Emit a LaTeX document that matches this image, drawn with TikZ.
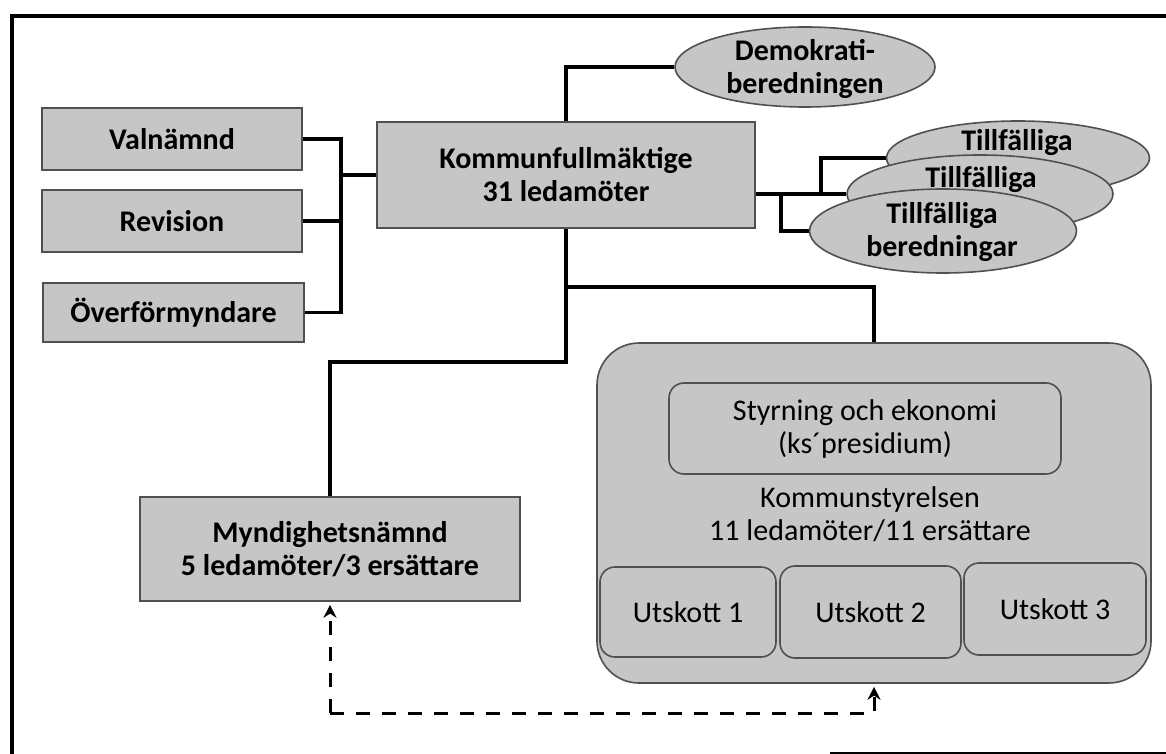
\documentclass[tikz,border=0pt]{standalone}
\usepackage{fontspec}
\setmainfont{Carlito}
\usetikzlibrary{shapes.geometric,arrows.meta,backgrounds}
\definecolor{boxgray}{RGB}{198,198,198}
\definecolor{edgegray}{RGB}{80,80,80}
\begin{document}
\begin{tikzpicture}[x=1pt,y=-1pt,
  txtfont/.style={font=\fontsize{30}{33}\selectfont},
  sqbox/.style={draw=edgegray, line width=1.6pt, fill=boxgray, inner sep=0pt, align=center, font=\bfseries\fontsize{30}{33}\selectfont},
  rbox/.style={draw=edgegray, line width=1.6pt, fill=boxgray, inner sep=0pt, align=center, rounded corners=15pt, txtfont},
  ksbox/.style={draw=edgegray, line width=1.6pt, fill=boxgray, inner sep=0pt, rounded corners=42pt},
  oval/.style={ellipse, draw=edgegray, line width=1.6pt, fill=boxgray, inner sep=0pt},
  lbl/.style={align=center, inner sep=0pt, font=\bfseries\fontsize{30}{33}\selectfont},
  lblreg/.style={align=center, inner sep=0pt, txtfont},
  conn/.style={line width=3.2pt, black},
  frameline/.style={line width=3.5pt, black},
  dashconn/.style={line width=3pt, black, dash pattern=on 14pt off 12pt, -{Stealth[length=13pt,width=13pt]}, shorten >=3pt}
]
\useasboundingbox (0,0) rectangle (1166,754);

% left boxes
\node[sqbox, minimum width=260pt, minimum height=62pt] (val) at (172,139) {Valnämnd};
\node[sqbox, minimum width=260pt, minimum height=62pt] (rev) at (172,221) {Revision};
\node[sqbox, minimum width=261pt, minimum height=59pt] (ovf) at (173.5,312.5) {Överförmyndare};

% Kommunfullmäktige
\node[sqbox, minimum width=378pt, minimum height=106pt] (kf) at (566,175) {Kommunfullmäktige\\31 ledamöter};

% ellipses
\node[oval, minimum width=260pt, minimum height=80pt] (demo) at (805,67) {};
\node[lbl] (demotxt) at (805,69) {Demokrati-\\beredningen};
\node[oval, minimum width=263pt, minimum height=74pt] (t1) at (1018,158) {};
\node[lbl] (t1txt) at (1017,143) {Tillfälliga};
\node[oval, minimum width=266pt, minimum height=78pt] (t2) at (980,194) {};
\node[lbl] (t2txt) at (981,180) {Tillfälliga};
\node[oval, minimum width=267pt, minimum height=84pt] (t3) at (943,231) {};
\node[lbl] (t3txt) at (942,232) {Tillfälliga\\beredningar};

% Myndighetsnämnd
\node[sqbox, minimum width=380pt, minimum height=104pt] (mynd) at (330,549) {Myndighetsnämnd\\5 ledamöter/3 ersättare};

% Kommunstyrelsen
\node[ksbox, minimum width=554pt, minimum height=340pt] (ks) at (874,513) {};
\node[rbox, minimum width=392pt, minimum height=91pt] (sty) at (865,428.5) {Styrning och ekonomi\\(ks´presidium)};
\node[lblreg] (kstxt) at (870,514) {Kommunstyrelsen\\11 ledamöter/11 ersättare};
\node[rbox, minimum width=176pt, minimum height=90pt] (u1) at (688,612) {Utskott 1};
\node[rbox, minimum width=181pt, minimum height=92pt] (u2) at (870.5,612) {Utskott 2};
\node[rbox, minimum width=182pt, minimum height=92pt] (u3) at (1055,609) {Utskott 3};

\begin{scope}[on background layer]
  % frame
  \draw[frameline] (1166,16) -- (12,16) -- (12,754);
  \draw[line width=2.5pt] (830,753) -- (1166,753);
  % bracket on the left
  \coordinate (bx) at (341,175);
  \draw[conn] (val.east) -| (bx) |- (ovf.east);
  \draw[conn] (rev.east) -- (rev.east -| bx);
  \draw[conn] (bx) -- (kf.west);
  % up to Demokratiberedningen
  \draw[conn] (kf.north) |- (demo.west);
  % to the Tillfälliga beredningar
  \coordinate (j1) at (821,194);
  \coordinate (j2) at (781,194);
  \draw[conn] (kf.east |- t2.west) -- (t2.west);
  \draw[conn] (j1) |- (t1.west);
  \draw[conn] (j2) |- (t3.west);
  % down to Myndighetsnämnd and Kommunstyrelsen
  \coordinate (kb) at (566,287);
  \coordinate (km) at (566,362);
  \draw[conn] (kf.south) -- (km) -| (mynd.north);
  \draw[conn] (kb) -| (ks.north);
  % dashed arrows
  \coordinate (dc) at (330,713);
  \draw[dashconn] (dc) -- (mynd.south);
  \draw[dashconn] (dc) -| (ks.south);
\end{scope}
\end{tikzpicture}
\end{document}
